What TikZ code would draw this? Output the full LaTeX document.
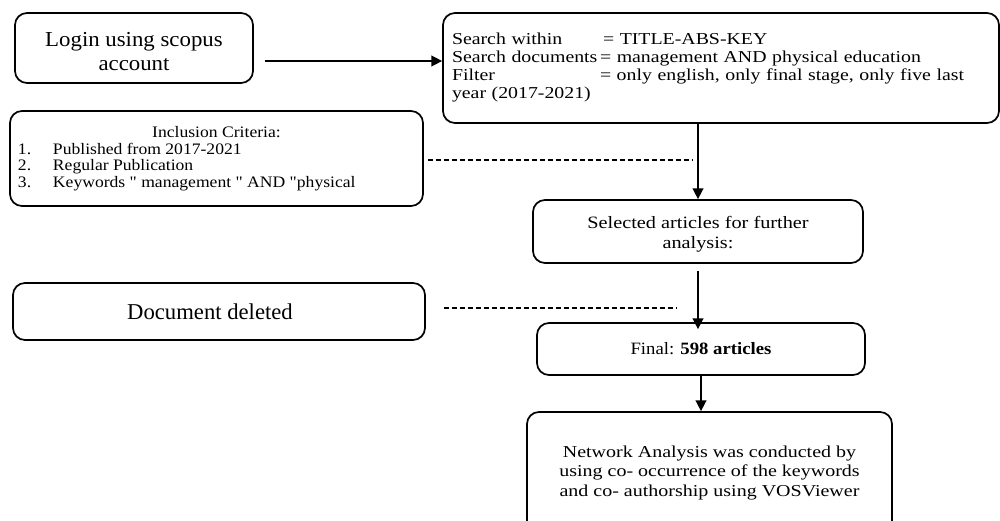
\documentclass[tikz,border=0pt]{standalone}
\usepackage{fontspec}
\setmainfont{Liberation Serif}
\newfontfamily\fLogin[FakeStretch=1.07]{Liberation Serif}
\newfontfamily\fSearch[FakeStretch=1.19]{Liberation Serif}
\newfontfamily\fIncl[FakeStretch=1.1]{Liberation Serif}
\newfontfamily\fSel[FakeStretch=1.17]{Liberation Serif}
\newfontfamily\fFin[FakeStretch=1.08]{Liberation Serif}
\newfontfamily\fNet[FakeStretch=1.2]{Liberation Serif}
\usetikzlibrary{arrows.meta}
\tikzset{
  flowbox/.style={draw=black, line width=1.3pt, rounded corners=9pt, inner sep=0pt, fill=white},
  arr/.style={line width=1.1pt, -{Triangle[length=8pt,width=8pt]}},
  dashline/.style={line width=1.3pt, dash pattern=on 3.75pt off 2.25pt}
}
\begin{document}
\begin{tikzpicture}[x=0.75pt,y=-0.75pt]
\useasboundingbox[fill=white] (0,0) rectangle (1000,521);

% boxes
\node[flowbox, minimum width=178.5pt, minimum height=52.5pt, align=center,
      font=\fLogin\fontsize{16pt}{18pt}\selectfont] (login) at (134,48)
  {\rule{0pt}{16pt}Login using scopus\\account};

\node[flowbox, minimum width=417pt, minimum height=82.5pt, text width=403.5pt,
      inner xsep=6.75pt, align=left,
      font=\fSearch\fontsize{12.5pt}{13.5pt}\selectfont] (search) at (721,68)
  {\makebox[113.25pt][l]{Search within}= TITLE-ABS-KEY\\
   \makebox[111pt][l]{Search documents}= management AND physical education\\
   \makebox[111pt][l]{Filter}= only english, only final stage, only five last\\
   year (2017-2021)};

\node[flowbox, minimum width=309.75pt, minimum height=71.25pt, align=center,
      font=\fIncl\fontsize{12pt}{12.4pt}\selectfont] (incl) at (216.5,158.5)
  {Inclusion Criteria:\\
   \makebox[297.75pt][l]{\makebox[26.25pt][l]{1.}Published from 2017-2021}\\
   \makebox[297.75pt][l]{\makebox[26.25pt][l]{2.}Regular Publication}\\
   \makebox[297.75pt][l]{\makebox[26.25pt][l]{3.}Keywords " management " AND "physical}};

\node[flowbox, minimum width=247.5pt, minimum height=47.25pt, align=center,
      font=\fSel\fontsize{13pt}{15pt}\selectfont] (sel) at (698,231.5)
  {\rule{0pt}{14pt}Selected articles for further\\analysis:};

\node[flowbox, minimum width=309pt, minimum height=42.75pt, align=center,
      font=\fontsize{17pt}{19pt}\selectfont] (doc) at (219,311.5)
  {Document deleted\hspace*{13.5pt}};

\node[flowbox, minimum width=246pt, minimum height=39pt, align=center,
      font=\fFin\fontsize{13pt}{15pt}\selectfont] (final) at (701,349)
  {Final: \textbf{598 articles}};

\node[flowbox, minimum width=273.75pt, minimum height=91.5pt, align=center,
      font=\fNet\fontsize{12.5pt}{14.5pt}\selectfont] (net) at (709.5,473)
  {Network Analysis was conducted by\\
   using co- occurrence of the keywords\\
   and co- authorship using VOSViewer};

% helper coordinates for free ends
\coordinate (a0) at (265,61);
\coordinate (d1e) at (693,0);
\coordinate (d2e) at (677,0);

% connectors
\draw[arr] (a0) -- (a0 -| search.west);
\draw[arr] (sel.north |- search.south) -- (sel.north);
\draw[arr] ([yshift=-5.25pt]sel.south) -- ([yshift=-5.25pt]sel.south |- final.north);
\draw[arr] (final.south) -- (final.south |- net.north);

\draw[dashline] ([xshift=3pt,yshift=-1.125pt]incl.east) -- ([yshift=-1.125pt]incl.east -| d1e);
\draw[dashline] ([xshift=13.5pt,yshift=2.5pt]doc.east) -- ([yshift=2.5pt]doc.east -| d2e);
\end{tikzpicture}
\end{document}
